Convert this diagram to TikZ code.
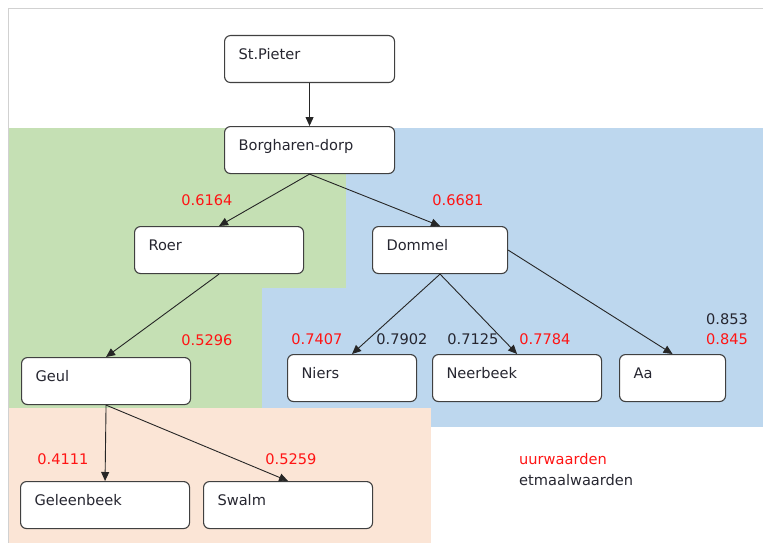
\documentclass[tikz,border=0pt]{standalone}
\usepackage{fontspec}
\setmainfont{DejaVu Sans}
\usetikzlibrary{arrows.meta}
\definecolor{regiongreen}{RGB}{197,224,180}
\definecolor{regionblue}{RGB}{189,215,238}
\definecolor{regionpeach}{RGB}{251,229,214}
\definecolor{valred}{RGB}{255,20,20}
\definecolor{valdark}{RGB}{38,38,48}
\tikzset{
  station/.style={draw=black!75, fill=white, line width=1.1pt, rounded corners=6pt,
    anchor=north west, align=left, inner xsep=14pt, inner ysep=0pt,
    text height=24pt, text depth=23pt, text=valdark},
  link/.style={-{Triangle[length=9pt,width=8pt]}, line width=0.9pt, black!85},
  uur/.style={text=valred},
  etmaal/.style={text=valdark}
}
\begin{document}
\begin{tikzpicture}[x=1pt, y=-1pt, font=\fontsize{14.6}{17}\selectfont]
    \useasboundingbox (0,0) rectangle (763,543);
    % Regions
    \fill[regiongreen] (8,128) rectangle (346,408);
    \fill[regionblue] (346,128) rectangle (763,427);
    \fill[regionblue] (262,288) rectangle (763,427);
    \fill[regionpeach] (8,408) rectangle (431,543);
    \draw[black!18, line width=1pt] (8,543) -- (8,9) -- (763,9);
    % Stations
    \node[station, text width=142pt] (stpieter) at (224,35) {St.Pieter};
    \node[station, text width=142pt] (borgharen) at (224,126) {Borgharen-dorp};
    \node[station, text width=141pt] (roer) at (134,226) {Roer};
    \node[station, text width=107pt] (dommel) at (372,226) {Dommel};
    \node[station, text width=141pt] (geul) at (21,357) {Geul};
    \node[station, text width=101pt] (niers) at (287,354) {Niers};
    \node[station, text width=141pt] (neerbeek) at (432,354) {Neerbeek};
    \node[station, text width=78pt] (aa) at (619,354) {Aa};
    \node[station, text width=141pt] (geleenbeek) at (20,481) {Geleenbeek};
    \node[station, text width=141pt] (swalm) at (203,481) {Swalm};
    % Links
    \draw[link] (stpieter.south) -- (borgharen.north);
    \draw[link] (borgharen.south) -- (roer.north);
    \draw[link] (borgharen.south) -- (dommel.north);
    \draw[link] (roer.south) -- (geul.north);
    \draw[link] (dommel.south) -- (niers.north);
    \draw[link] (dommel.south) -- (neerbeek.north);
    \draw[link] (dommel.east) -- (aa.north);
    \draw[link] (geul.south) -- (geleenbeek.north);
    \draw[link] (geul.south) -- (swalm.north);
    % Values
    \node[uur] (vroer) at (207,200) {0.6164};
    \node[uur] (vdommel) at (458,200) {0.6681};
    \node[uur] (vgeul) at (207,340) {0.5296};
    \node[uur] (vniersu) at (317,339) {0.7407};
    \node[etmaal] (vnierse) at (402,339) {0.7902};
    \node[etmaal] (vneerbeeke) at (473,339) {0.7125};
    \node[uur] (vneerbeeku) at (545,339) {0.7784};
    \node[etmaal] (vaae) at (727,319) {0.853};
    \node[uur] (vaau) at (727,339) {0.845};
    \node[uur] (vgeleenbeek) at (63,459) {0.4111};
    \node[uur] (vswalm) at (291,459) {0.5259};
    % Legend
    \node[uur, anchor=west, inner xsep=0pt] (leguur) at (519,459) {uurwaarden};
    \node[etmaal, anchor=west, inner xsep=0pt] (legetmaal) at (519,480) {etmaalwaarden};
\end{tikzpicture}
\end{document}
